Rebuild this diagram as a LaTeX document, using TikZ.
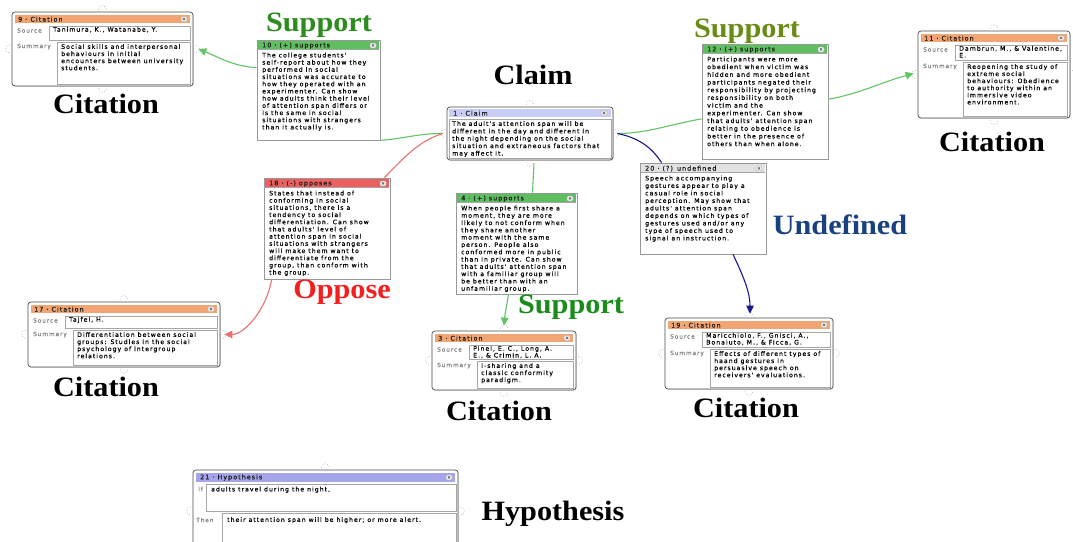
\documentclass[tikz,border=0pt]{standalone}
\usepackage{fontspec}
\setmainfont{Liberation Serif}
\newfontfamily\txtfont[LetterSpace=16,FakeBold=0.3]{DejaVu Sans}
\newfontfamily\lblfamily[FakeStretch=1.08]{Liberation Serif}
\usetikzlibrary{calc,fit,arrows.meta,shadows}
\definecolor{hdrorange}{RGB}{240,165,115}
\definecolor{hdrgreen}{RGB}{95,190,95}
\definecolor{hdrred}{RGB}{238,95,95}
\definecolor{hdrclaim}{RGB}{200,205,245}
\definecolor{hdrhyp}{RGB}{165,165,235}
\definecolor{hdrgrey}{RGB}{226,226,226}
\definecolor{congreen}{RGB}{100,195,100}
\definecolor{conred}{RGB}{232,112,112}
\definecolor{conblue}{RGB}{25,25,140}
\definecolor{lgreen}{RGB}{45,140,30}
\definecolor{lolive}{RGB}{105,140,20}
\definecolor{lgreentwo}{RGB}{25,140,25}
\definecolor{lred}{RGB}{245,30,30}
\definecolor{lblue}{RGB}{25,65,130}
\newcommand\tf[1]{\txtfont\fontsize{6.2}{#1}\selectfont}
\tikzset{
 outer/.style={draw=black!70, line width=0.7pt, rounded corners=3pt, fill=white, inner sep=0pt,
   drop shadow={opacity=0.25,shadow xshift=0.8pt,shadow yshift=-0.8pt}},
 abox/.style={draw=black!40, line width=0.8pt, fill=white, inner sep=0pt},
 hdr/.style={inner sep=0pt, draw=none},
 field/.style={draw=black!35, line width=0.5pt, fill=white, inner sep=0pt},
 hdtxt/.style={font=\txtfont\fontsize{6.4}{7}\selectfont, inner sep=0pt, text=black!90},
 flabel/.style={font=\txtfont\fontsize{5.8}{6}\selectfont, inner sep=0pt, text=black!50, anchor=west},
 txt/.style={anchor=north west, inner sep=0pt, align=left},
 xbtn/.style={draw=black!30, fill=black!8, rounded corners=1pt, minimum width=6pt, minimum height=5pt,
   inner sep=0pt, font=\txtfont\fontsize{4}{4}\selectfont, text=black!60},
 handle/.style={draw=black!30, dotted, line width=0.7pt},
 lbl/.style={font=\lblfamily\bfseries\fontsize{28}{30}\selectfont, inner sep=0pt},
 con/.style={line width=1.1pt},
 tip/.style={-{Triangle[length=8pt,width=7.5pt]}},
}
\newcommand\hnd[1]{%
 \draw[handle] ($(#1.north)+(-4,-2)$) arc[start angle=180,end angle=0,radius=4pt];
 \draw[handle] ($(#1.south)+(-4,2)$) arc[start angle=180,end angle=360,radius=4pt];
 \draw[handle] ($(#1.west)+(-2,-4)$) arc[start angle=90,end angle=270,radius=4pt];
 \draw[handle] ($(#1.east)+(2,-4)$) arc[start angle=90,end angle=-90,radius=4pt];
}
% name, x0, y0, x1, y1, header colour, title, line skip, text
\newcommand\argnode[9]{%
 \node[abox, fit={(#2,#3)(#4,#5)}] (#1) {};
 \node[hdr, fill=#6, fit={(#2+1,#3+1)(#4-1,#3+9.5)}] (#1h) {};
 \draw[black!35, line width=0.5pt] (#1h.south west) -- (#1h.south east);
 \node[hdtxt, anchor=west] (#1ht) at (#2+5,#3+5.6) {#7};
 \node[xbtn] (#1x) at (#4-7,#3+5.5) {×};
 \node[txt, font={\tf{#8}}] (#1t) at (#2+5,#3+12.5) {#9};
}
% name, x0, y0, x1, y1, title, split y, source, summary
\newcommand\citenode[9]{%
 \node[outer, fit={(#2,#3)(#4,#5)}] (#1) {};
 \node[hdr, fill=hdrorange, fit={(#2+3,#3+3)(#4-3,#3+11)}] (#1h) {};
 \node[hdtxt, anchor=west] (#1ht) at (#2+6,#3+7.2) {#6};
 \node[xbtn] (#1x) at (#4-9,#3+7) {×};
 \node[flabel] (#1sl) at (#2+5,#3+18.5) {Source};
 \node[field, fit={(#2+37,#3+14)(#4-3,#7)}] (#1s) {};
 \node[txt, font={\tf{6.8}}] (#1st) at (#2+41,#3+14.8) {#8};
 \node[flabel] (#1ml) at (#2+5,#7+6.5) {Summary};
 \node[field, fit={(#2+45,#7+2)(#4-3,#5-2)}] (#1m) {};
 \node[txt, font={\tf{7.1}}] (#1mt) at (#2+49,#7+4) {#9};
 \hnd{#1}%
}
\begin{document}
\begin{tikzpicture}[x=1pt,y=-1pt]
\useasboundingbox (0,0) rectangle (1073,541);
\clip (0,0) rectangle (1073,541);
\fill[white] (0,0) rectangle (1073,541);

% citations
\citenode{c9}{12}{12}{193}{86}{9 · Citation}{40}{Tanimura, K., Watanabe, Y.}{Social skills and interpersonal\\behaviours in initial\\encounters between university\\students.}
\citenode{c11}{918}{31}{1070}{118}{11 · Citation}{60}{Dambrun, M., \& Valentine,\\E.}{Reopening the study of\\extreme social\\behaviours: Obedience\\to authority within an\\immersive video\\environment.}
\citenode{c17}{28}{302}{220}{367}{17 · Citation}{328}{Tajfel, H.}{Differentiation between social\\groups: Studies in the social\\psychology of intergroup\\relations.}
\citenode{c3}{432}{331}{576}{390}{3 · Citation}{359}{Pinel, E. C., Long, A.\\E., \& Crimin, L. A.}{I-sharing and a\\classic conformity\\paradigm.}
\citenode{c19}{665}{318}{833}{389}{19 · Citation}{347}{Maricchiolo, F., Gnisci, A.,\\Bonaiuto, M., \& Ficca, G.}{Effects of different types of\\haand gestures in\\persuasive speech on\\receivers' evaluations.}

% claim
\node[outer, fit={(447,107)(613,160)}] (n1) {};
\node[hdr, fill=hdrclaim, fit={(449,109)(611,117)}] (n1h) {};
\node[hdtxt, anchor=west] (n1ht) at (453,113.2) {1 · Claim};
\node[xbtn] (n1x) at (604,113) {×};
\node[field, fit={(449,119)(611,158)}] (n1b) {};
\node[txt, font={\tf{7.4}}] (n1t) at (452,121) {The adult's attention span will be\\different in the day and different in\\the night depending on the social\\situation and extraneous factors that\\may affect it.};
\hnd{n1}

% argument nodes
\argnode{n10}{257}{40}{380}{140}{hdrgreen}{10 · (+) supports}{7.2}{The college students'\\self-report about how they\\performed in social\\situations was accurate to\\how they operated with an\\experimenter. Can show\\how adults think their level\\of attention span differs or\\is the same in social\\situations with strangers\\than it actually is.}
\argnode{n12}{702}{44}{828}{159}{hdrgreen}{12 · (+) supports}{7.7}{Participants were more\\obedient when victim was\\hidden and more obedient\\participants negated their\\responsibility by projecting\\responsibility on both\\victim and the\\experimenter. Can show\\that adults' attention span\\relating to obedience is\\better in the presence of\\others than when alone.}
\argnode{n18}{264}{178}{390}{279}{hdrred}{18 · (-) opposes}{7.2}{States that instead of\\conforming in social\\situations, there is a\\tendency to social\\differentiation. Can show\\that adults' level of\\attention span in social\\situations with strangers\\will make them want to\\differentiate from the\\group, than conform with\\the group.}
\argnode{n4}{456}{193}{577}{294}{hdrgreen}{4 · (+) supports}{7.3}{When people first share a\\moment, they are more\\likely to not conform when\\they share another\\moment with the same\\person. People also\\conformed more in public\\than in private. Can show\\that adults' attention span\\with a familiar group will\\be better than with an\\unfamiliar group.}
\argnode{n20}{640}{163}{766}{254}{hdrgrey}{20 · (?) undefined}{7.5}{Speech accompanying\\gestures appear to play a\\casual role in social\\perception. May show that\\adults' attention span\\depends on which types of\\gestures used and/or any\\type of speech used to\\signal an instruction.}

% hypothesis
\node[outer, fit={(193,470)(458,552)}] (h21) {};
\node[hdr, fill=hdrhyp, fit={(196,473)(455,482)}] (h21h) {};
\node[hdtxt, anchor=west] (h21ht) at (200,477.5) {21 · Hypothesis};
\node[xbtn] (h21x) at (449,477.5) {×};
\node[flabel] (h21il) at (198,489) {If};
\node[field, fit={(206,484)(456,511)}] (h21i) {};
\node[txt, font={\tf{7}}] (h21it) at (211,486.5) {adults travel during the night,};
\node[flabel] (h21tl) at (196,520) {Then};
\node[field, fit={(222,513)(456,552)}] (h21tf) {};
\node[txt, font={\tf{7}}] (h21tt) at (227,517) {their attention span will be higher; or more alert.};
\hnd{h21}

% connectors
\draw[con, congreen] ($(n1.west)+(-4,0)$) .. controls +(-25,0) and +(25,-2) .. (n10.south east);
\draw[con, congreen, tip] ($(n10.north west)!0.28!(n10.south west)$) .. controls +(-25,-2) and +(20,8) .. ($(c9.east)+(5,0)$);
\draw[con, congreen] ($(n1.east)+(4,0)$) .. controls +(30,0) and +(-30,5) .. ($(n12.north west)!0.65!(n12.south west)$);
\draw[con, congreen, tip] ($(n12.north east)!0.48!(n12.south east)$) .. controls +(30,-5) and +(-30,8) .. ($(c11.west)+(-4,-1)$);
\draw[con, conred] ($(n1.west)+(-4,0)$) .. controls +(-25,8) and +(20,-20) .. ($(n18.north east)+(-6,0)$);
\draw[con, conred, tip] ($(n18.south west)+(8,0)$) .. controls +(-5,30) and +(20,0) .. ($(c17.east)+(4,0)$);
\draw[con, congreen] ($(n1.south)+(4,3)$) -- ($(n4.north)+(16,0)$);
\draw[con, congreen, tip] ($(n4.south)+(-8,0)$) .. controls +(-2,12) and +(1,-12) .. ($(c3.north)+(0,-5)$);
\draw[con, conblue] ($(n1.east)+(4,0)$) .. controls +(25,5) and +(-8,-12) .. ($(n20.north west)+(22,0)$);
\draw[con, conblue, tip] ($(n20.south)+(30,0)$) .. controls +(12,25) and +(0,-20) .. ($(c19.north)+(1,-4)$);

% big labels
\node[lbl, text=lgreen] (l1) at (319,25) {Support};
\node[lbl] (l2) at (533,75) {Claim};
\node[lbl, text=lolive] (l3) at (747,31) {Support};
\node[lbl] (l4) at (106,104) {Citation};
\node[lbl] (l5) at (992,142) {Citation};
\node[lbl, text=lblue] (l6) at (840,225) {Undefined};
\node[lbl, text=lred] (l7) at (342,292) {Oppose};
\node[lbl, text=lgreentwo] (l8) at (571,307) {Support};
\node[lbl] (l9) at (106,387) {Citation};
\node[lbl] (l10) at (499,411) {Citation};
\node[lbl] (l11) at (746,408) {Citation};
\node[lbl] (l12) at (553,514) {Hypothesis};
\end{tikzpicture}
\end{document}
